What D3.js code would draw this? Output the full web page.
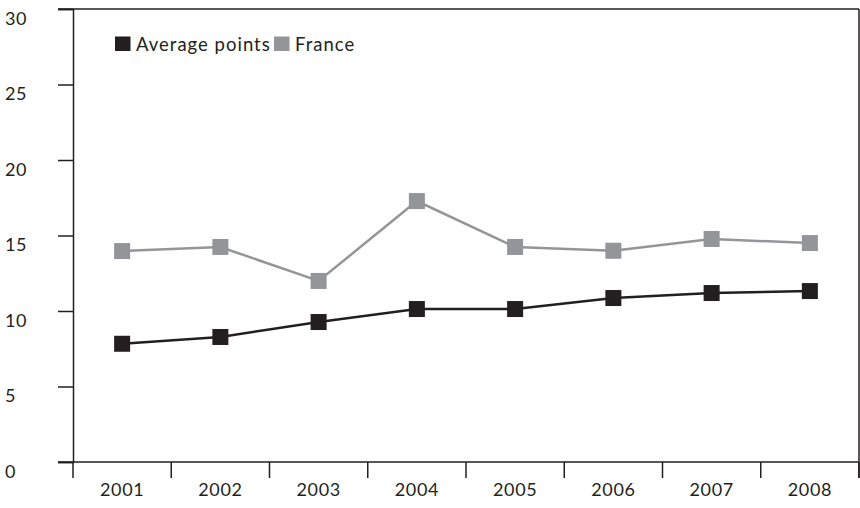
<!DOCTYPE html>
<html><head><meta charset="utf-8">
<script src="https://cdn.jsdelivr.net/npm/d3@7"></script>
<style>body{margin:0;background:#fff}svg{display:block}text{font-family:Lato,"Open Sans",sans-serif;fill:#231f20}</style>
</head><body><svg id="c" width="860" height="508"></svg>
<script>
const years = ["2001","2002","2003","2004","2005","2006","2007","2008"];
const averagePoints = [7.83, 8.28, 9.27, 10.13, 10.13, 10.86, 11.19, 11.32];
const france = [13.97, 14.24, 11.99, 17.28, 14.24, 13.99, 14.77, 14.50];
const yTicks = [0, 5, 10, 15, 20, 25, 30];
const seriesNames = ["Average points", "France"];
const colors = ["#231f20", "#939598"];

const svg = d3.select("#c");
const x = d3.scaleBand().domain(years).range([73, 859]).padding(0);
const y = d3.scaleLinear().domain([0, 30]).range([462, 9]);
const axisCol = "#231f20";

// left axis
const yAxis = svg.append("g").attr("transform", "translate(73,0)")
  .call(d3.axisLeft(y).tickValues(yTicks).tickSize(15).tickFormat(d => d));
yAxis.select(".domain").attr("stroke", axisCol).attr("stroke-width", 1.5);
yAxis.selectAll(".tick line").attr("stroke", axisCol).attr("stroke-width", 1.5);
yAxis.selectAll(".tick text").attr("x", -68).attr("dy", "0.85em").attr("text-anchor", "start")
  .style("font-size", "18px").style("letter-spacing", "0.6px").attr("fill", axisCol);

// bottom axis
const xAxis = svg.append("g").attr("transform", "translate(0,462)")
  .call(d3.axisBottom(x).tickSize(0));
xAxis.select(".domain").remove();
xAxis.selectAll(".tick text").attr("y", 28).attr("dy", "0.35em").style("font-size", "18px")
  .style("letter-spacing", "0.6px").attr("fill", axisCol);
svg.append("line").attr("x1", 58).attr("x2", 859).attr("y1", y(0)).attr("y2", y(0)).attr("stroke", axisCol).attr("stroke-width", 1.5);
const bounds = years.map(d => x(d)).concat([x.range()[1]]);
svg.selectAll(".xt").data(bounds).join("line").attr("class","xt")
  .attr("x1", d => d).attr("x2", d => d).attr("y1", y(0)).attr("y2", y(0) + 16)
  .attr("stroke", axisCol).attr("stroke-width", 1.5);
// frame top and right
svg.append("line").attr("x1", 58).attr("x2", 859).attr("y1", y(30)).attr("y2", y(30)).attr("stroke", axisCol).attr("stroke-width", 1.5);
svg.append("line").attr("x1", 859).attr("x2", 859).attr("y1", y(30)).attr("y2", y(0) + 16).attr("stroke", axisCol).attr("stroke-width", 1.5);

const cx = d => x(d) + x.bandwidth() / 2;
const line = d3.line().x((d, i) => cx(years[i])).y(d => y(d));
[averagePoints, france].forEach((vals, k) => {
  svg.append("path").datum(vals).attr("d", line).attr("fill", "none")
    .attr("stroke", colors[k]).attr("stroke-width", 2.5);
  svg.selectAll(".m" + k).data(vals).join("rect").attr("class", "m" + k)
    .attr("x", (d, i) => cx(years[i]) - 8).attr("y", d => y(d) - 8)
    .attr("width", 16).attr("height", 16).attr("fill", colors[k]);
});

// legend
const leg = [{x:115, name: seriesNames[0], c: colors[0]}, {x:274, name: seriesNames[1], c: colors[1]}];
leg.forEach(l => {
  svg.append("rect").attr("x", l.x).attr("y", 36.5).attr("width", 15.5).attr("height", 14.5).attr("fill", l.c);
  svg.append("text").attr("x", l.x + 21).attr("y", 51).style("font-size", "18.5px")
    .style("letter-spacing", "1px").text(l.name);
});
</script></body></html>
